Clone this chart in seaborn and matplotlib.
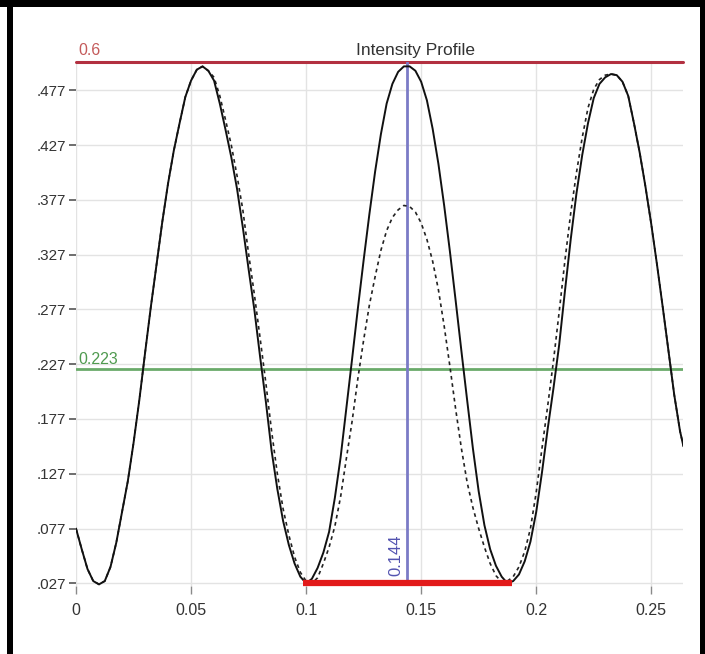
import numpy as np
import pandas as pd
import matplotlib
matplotlib.use("Agg")
import matplotlib.pyplot as plt
from matplotlib.patches import Rectangle
from matplotlib import font_manager
import seaborn as sns

# ---------------- data ----------------
x_pos = [0.0000, 0.0025, 0.0050, 0.0075, 0.0100, 0.0125, 0.0150, 0.0175, 0.0200, 0.0225,
         0.0250, 0.0275, 0.0300, 0.0325, 0.0350, 0.0375, 0.0400, 0.0425, 0.0450, 0.0475,
         0.0500, 0.0525, 0.0550, 0.0575, 0.0600, 0.0625, 0.0650, 0.0675, 0.0700, 0.0725,
         0.0750, 0.0775, 0.0800, 0.0825, 0.0850, 0.0875, 0.0900, 0.0925, 0.0950, 0.0975,
         0.1000, 0.1025, 0.1050, 0.1075, 0.1100, 0.1125, 0.1150, 0.1175, 0.1200, 0.1225,
         0.1250, 0.1275, 0.1300, 0.1325, 0.1350, 0.1375, 0.1400, 0.1425, 0.1450, 0.1475,
         0.1500, 0.1525, 0.1550, 0.1575, 0.1600, 0.1625, 0.1650, 0.1675, 0.1700, 0.1725,
         0.1750, 0.1775, 0.1800, 0.1825, 0.1850, 0.1875, 0.1900, 0.1925, 0.1950, 0.1975,
         0.2000, 0.2025, 0.2050, 0.2075, 0.2100, 0.2125, 0.2150, 0.2175, 0.2200, 0.2225,
         0.2250, 0.2275, 0.2300, 0.2325, 0.2350, 0.2375, 0.2400, 0.2425, 0.2450, 0.2475,
         0.2500, 0.2525, 0.2550, 0.2575, 0.2600, 0.2625, 0.2640]

profile_solid = [0.077, 0.058, 0.040, 0.029, 0.026, 0.029, 0.042, 0.064, 0.092, 0.120,
                 0.155, 0.194, 0.237, 0.279, 0.318, 0.357, 0.392, 0.422, 0.447, 0.471,
                 0.486, 0.496, 0.499, 0.495, 0.486, 0.465, 0.441, 0.416, 0.387, 0.352,
                 0.314, 0.277, 0.234, 0.193, 0.148, 0.113, 0.084, 0.062, 0.045, 0.033,
                 0.027, 0.031, 0.041, 0.055, 0.074, 0.105, 0.142, 0.187, 0.232, 0.278,
                 0.322, 0.364, 0.403, 0.437, 0.465, 0.483, 0.494, 0.499, 0.499, 0.495,
                 0.485, 0.468, 0.442, 0.410, 0.372, 0.330, 0.285, 0.239, 0.194, 0.150,
                 0.111, 0.080, 0.058, 0.043, 0.033, 0.027, 0.029, 0.035, 0.047, 0.065,
                 0.092, 0.128, 0.168, 0.205, 0.245, 0.294, 0.341, 0.383, 0.418, 0.447,
                 0.470, 0.483, 0.489, 0.492, 0.491, 0.485, 0.472, 0.447, 0.420, 0.389,
                 0.355, 0.318, 0.279, 0.239, 0.199, 0.166, 0.152]

profile_dashed = [0.077, 0.058, 0.040, 0.029, 0.026, 0.029, 0.042, 0.064, 0.092, 0.120,
                  0.155, 0.194, 0.237, 0.279, 0.318, 0.357, 0.392, 0.422, 0.447, 0.471,
                  0.486, 0.496, 0.499, 0.495, 0.489, 0.472, 0.450, 0.427, 0.399, 0.368,
                  0.328, 0.291, 0.251, 0.210, 0.166, 0.127, 0.095, 0.071, 0.051, 0.037,
                  0.029, 0.027, 0.032, 0.045, 0.060, 0.079, 0.106, 0.141, 0.175, 0.214,
                  0.249, 0.281, 0.307, 0.331, 0.349, 0.361, 0.368, 0.372, 0.371, 0.366,
                  0.356, 0.341, 0.321, 0.295, 0.262, 0.225, 0.186, 0.150, 0.119, 0.096,
                  0.077, 0.060, 0.045, 0.034, 0.028, 0.029, 0.033, 0.042, 0.056, 0.077,
                  0.110, 0.150, 0.189, 0.230, 0.275, 0.322, 0.365, 0.402, 0.434, 0.461,
                  0.478, 0.487, 0.491, 0.492, 0.491, 0.485, 0.472, 0.447, 0.420, 0.389,
                  0.355, 0.318, 0.279, 0.239, 0.199, 0.166, 0.152]

x_ticks = [0, 0.05, 0.1, 0.15, 0.2, 0.25]
x_tick_labels = ["0", "0.05", "0.1", "0.15", "0.2", "0.25"]
y_ticks = [0.027, 0.077, 0.127, 0.177, 0.227, 0.277, 0.327, 0.377, 0.427, 0.477]
y_tick_labels = [".027", ".077", ".127", ".177", ".227", ".277", ".327", ".377", ".427", ".477"]

max_level = 0.503          # red line position
max_label = "0.6"
threshold_level = 0.223    # green line
threshold_label = "0.223"
peak_x = 0.144             # blue marker
peak_label = "0.144"
width_start, width_end, width_level = 0.0985, 0.1895, 0.027   # red width bar
title_text = "Intensity Profile"

# ---------------- style ----------------
sns.set_style("white")
names = {f.name for f in font_manager.fontManager.ttflist}
narrow = "Liberation Sans Narrow" in names
plt.rcParams["font.family"] = ["Liberation Sans", "DejaVu Sans"]
xfam = ["Liberation Sans Narrow", "Liberation Sans"] if narrow else ["Liberation Sans"]
xsize = 13.5 if narrow else 11.5

W, H = 705, 654
fig = plt.figure(figsize=(W / 100, H / 100), dpi=100)
fig.patch.set_facecolor("white")
ax = fig.add_axes([76 / W, 1 - 586 / H, (683 - 76) / W, (586 - 62) / H])

df = pd.DataFrame({"x": x_pos, "solid": profile_solid, "dashed": profile_dashed})

sns.lineplot(data=df, x="x", y="dashed", ax=ax, color="#222222", lw=1.2,
             estimator=None, sort=False, zorder=5, linestyle=(0, (2.2, 2.2)))
sns.lineplot(data=df, x="x", y="solid", ax=ax, color="#111111", lw=1.4,
             estimator=None, sort=False, zorder=6)

ax.set_xlim(0, 0.2638)
ax.set_ylim(0.0245, max_level)

ax.set_xticks(x_ticks)
ax.set_xticklabels(x_tick_labels, fontfamily=xfam, fontsize=xsize, color="#333333")
ax.set_yticks(y_ticks)
ax.set_yticklabels(y_tick_labels, fontsize=11, color="#333333")
ax.tick_params(axis="x", bottom=True, direction="out", length=6, width=1,
               color="#8a8a8a", pad=6)
ax.tick_params(axis="y", left=True, direction="out", length=5, width=1.2,
               color="#555555", pad=2)
ax.set_xlabel("")
ax.set_ylabel("")
for s in ax.spines.values():
    s.set_visible(False)
ax.grid(True, color="#e3e3e3", lw=1)
ax.set_axisbelow(True)

# reference lines
ax.axhline(max_level, color="#b23040", lw=2.2, clip_on=False, zorder=3)
ax.axhline(threshold_level, color="#6aaa6a", lw=2.0, zorder=3)
ax.axvline(peak_x, color="#7b7bc6", lw=2.0, zorder=3)
ax.plot([width_start, width_end], [width_level, width_level], color="#e21a1a",
        lw=4.5, solid_capstyle="butt", zorder=7, clip_on=False)

# annotations
ax.annotate(max_label, xy=(0, max_level), xytext=(2, 3), textcoords="offset points",
            color="#c45a5a", fontsize=11.5, ha="left", va="bottom", annotation_clip=False)
ax.annotate(threshold_label, xy=(0, threshold_level), xytext=(2, 1.5), textcoords="offset points",
            color="#4f9a4f", fontsize=11.5, ha="left", va="bottom")
ax.annotate(peak_label, xy=(peak_x, width_level), xytext=(-3, 5), textcoords="offset points",
            color="#5353b0", fontsize=12, rotation=90, ha="right", va="bottom")
fig.text(416 / W, 1 - 50 / H, title_text, ha="center", va="center", fontsize=12.5,
         color="#333333")

# black frame pieces
for (x0, y0, w, h) in [(0, H - 7, W, 7), (7, 0, 6, H), (700, 0, 5, H)]:
    fig.add_artist(Rectangle((x0 / W, y0 / H), w / W, h / H, transform=fig.transFigure,
                             facecolor="black", edgecolor="none", zorder=20))

fig.savefig("out.png", dpi=100)
